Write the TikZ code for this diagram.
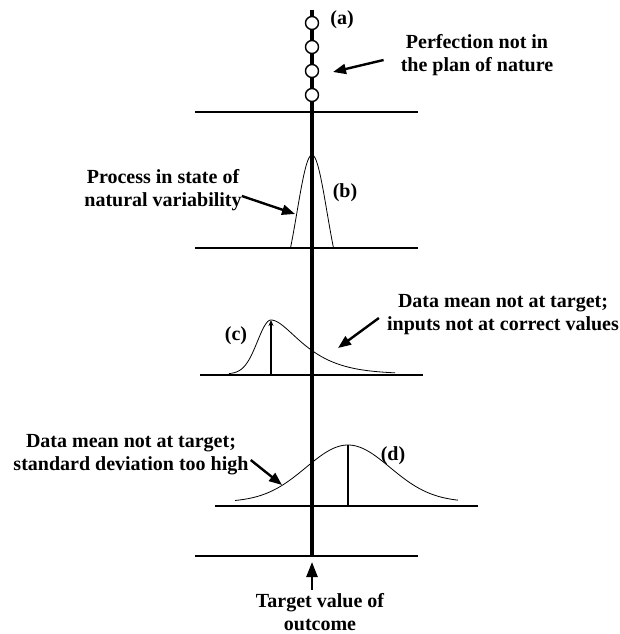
\documentclass[tikz,border=0pt]{standalone}
\usepackage{fontspec}
\setmainfont{Liberation Serif}
\usetikzlibrary{arrows.meta}

\begin{document}
\begin{tikzpicture}[x=1pt, y=-1pt,
  txt/.style={font=\bfseries\fontsize{20}{23}\selectfont, align=center, inner sep=3pt},
  lbl/.style={font=\bfseries\fontsize{20}{23}\selectfont, inner sep=0pt},
  axis/.style={line width=3.2pt},
  base/.style={line width=2.4pt},
  bead/.style={circle, draw, line width=1.4pt, fill=white, minimum size=13pt, inner sep=0pt},
  curve/.style={line width=0.8pt, smooth},
  arr/.style={line width=2.4pt, -{Triangle[length=13pt,width=10pt]}},
  pin/.style={line width=2.2pt}]
  \useasboundingbox (0,0) rectangle (620,634);
  \coordinate (top) at (312,10);
  \coordinate (bot) at (312,556);
  \draw[axis] (top) -- (bot);
  \foreach \i/\y in {1/23,2/47,3/71,4/95}
    \node[bead] (a\i) at (312,\y) {};
  \draw[base] (195,112) -- (418,112);
  \draw[base] (195,248) -- (418,248);
  \draw[base] (200,375) -- (423,375);
  \draw[base] (215,506) -- (478,506);
  \draw[base] (195,556) -- (418,556);

  \draw[curve] plot[domain=290.5:333.5, samples=60] (\x, {248-93*(exp(-((\x-312)^2)/450)-0.358)/0.642});
  \draw[curve] plot[domain=229:271, samples=40] (\x, {374-54*exp(-((\x-271)^2)/364)})
    -- plot[domain=271:395, samples=80] (\x, {374-54*(1+(\x-271)/21.6)*exp(-(\x-271)/21.6)});
  \draw[curve] plot[domain=235:458, samples=90] (\x, {502-57*exp(-((\x-348)^2)/3528)});

  \coordinate (cft) at (271,375);
  \coordinate (cpk) at (271,320);
  \coordinate (dft) at (348,506);
  \coordinate (dpk) at (348,445);
  \draw[pin, -{Stealth[length=6pt,width=5pt]}] (cft) -- (cpk);
  \draw[pin] (dft) -- (dpk);

  \node[lbl] (la) at (342,20) {(a)};
  \node[lbl] (lb) at (345,193) {(b)};
  \node[lbl] (lc) at (236,336) {(c)};
  \node[lbl] (ld) at (393,456) {(d)};

  \node[txt] (perf) at (477,55) {Perfection not in\\the plan of nature};
  \node[txt] (proc) at (163,190) {Process in state of\\natural variability};
  \node[txt] (mean) at (503,315) {Data mean not at target;\\inputs not at correct values};
  \node[txt] (spread) at (131,455) {Data mean not at target;\\standard deviation too high};
  \node[txt] (target) at (320,612) {Target value of\\outcome};

  \coordinate (atip) at (333,72);
  \coordinate (btip) at (295,214);
  \coordinate (ctip) at (338,348);
  \coordinate (dtip) at (282,485);
  \coordinate (ttip) at (312,562);
  \draw[arr] ([shift={(-14,5)}]perf.west) -- (atip);
  \draw[arr] ([shift={(-3,6)}]proc.east) -- (btip);
  \draw[arr] ([shift={(-5,3)}]mean.west) -- (ctip);
  \draw[arr] ([shift={(-1,5)}]spread.east) -- (dtip);
  \draw[arr, -{Triangle[length=15pt,width=11pt]}] (target.north -| ttip) -- (ttip);
\end{tikzpicture}
\end{document}
